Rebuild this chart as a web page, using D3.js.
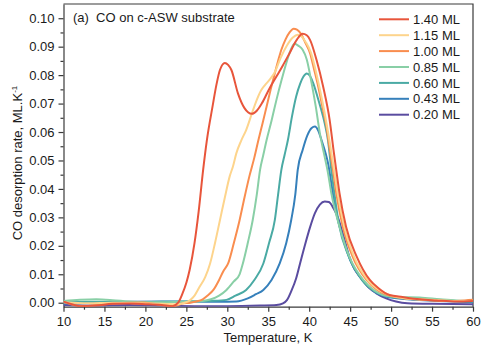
<!DOCTYPE html>
<html>
<head>
<meta charset="utf-8">
<script src="https://cdn.jsdelivr.net/npm/d3@7"></script>
<style>
  body { margin: 0; background: #fff; }
  svg { font-family: "Liberation Sans", Arial, sans-serif; }
  .axis path, .axis line { stroke: #3a3a3a; stroke-width: 1.2; }
  .axis text { font-size: 13px; fill: #1a1a1a; }
</style>
</head>
<body>
<svg id="chart" width="491" height="347"></svg>
<script>
// coverage labels, top to bottom in the legend
var labels = ['1.40 ML', '1.15 ML', '1.00 ML', '0.85 ML', '0.60 ML', '0.43 ML', '0.20 ML'];
var colors = ['#e8553b', '#fdd48c', '#f98d4f', '#89cfa6', '#4aaaa4', '#3680bb', '#5a4ca0'];

var xTicks = [10, 15, 20, 25, 30, 35, 40, 45, 50, 55, 60];
var yTicks = [0, 0.01, 0.02, 0.03, 0.04, 0.05, 0.06, 0.07, 0.08, 0.09, 0.10];

// [temperature K, rate ML/K]
var ml140 = [[10,0.0004],[11,-0.0005],[12,-0.0012],[14,-0.0010],[16,-0.0004],[18,-0.0003],[20,-0.0005],[22,-0.0008],[23.3,-0.0012],[24.0,0.0000],[24.5,0.0030],[25.0,0.0070],[25.4,0.0115],[26,0.021],[26.5,0.032],[27.05,0.0467],[27.5,0.057],[28.2,0.069],[28.7,0.077],[29.1,0.0818],[29.7,0.0843],[30.1,0.0836],[30.5,0.0818],[31.3,0.0736],[32.1,0.0684],[33.0,0.0664],[33.6,0.0675],[34.2,0.0700],[35.2,0.0756],[36.0,0.0795],[36.8,0.0835],[37.6,0.0877],[38.5,0.0925],[39.2,0.0945],[39.7,0.0940],[40.1,0.0924],[40.9,0.0853],[41.7,0.0760],[42.5,0.0642],[43.0,0.053],[43.3,0.0467],[43.7,0.0385],[44.5,0.0267],[45.8,0.0162],[47.4,0.0080],[48.5,0.0050],[49.8,0.0027],[51.4,0.0020],[53.5,0.0012],[55.5,0.0008],[58,0.0004],[60,0.0006]];
var ml115 = [[10,0.0002],[13,-0.0002],[16,0.0000],[19,-0.0002],[22,-0.0004],[24,-0.0005],[24.8,0.0000],[25.4,0.0008],[26.0,0.0025],[26.6,0.0055],[27.3,0.009],[27.9,0.0138],[28.5,0.021],[29.1,0.029],[29.7,0.037],[30.3,0.0445],[30.7,0.048],[31.1,0.0525],[31.7,0.057],[32.3,0.0607],[33.0,0.0665],[33.6,0.0713],[34.1,0.0745],[34.6,0.0765],[35.2,0.0785],[35.8,0.0810],[36.5,0.0860],[37.3,0.0905],[38.0,0.0932],[38.6,0.0942],[39.1,0.0935],[39.6,0.0915],[40.2,0.088],[41.0,0.079],[41.8,0.068],[42.5,0.0565],[43.1,0.0455],[43.5,0.0380],[44.3,0.0265],[45.5,0.016],[47.2,0.0078],[48.5,0.0045],[50,0.0025],[52,0.0015],[55,0.0010],[58,0.0006],[60,0.0006]];
var ml100 = [[10,0.0003],[11,-0.0006],[12.5,-0.0012],[14,-0.0008],[16,-0.0003],[18,0.0000],[19.7,0.0001],[21,-0.0004],[22.5,-0.0010],[23.5,-0.0012],[24.5,-0.0003],[25.5,0.0000],[26.2,0.0004],[27,0.0012],[27.6,0.0025],[28.3,0.0045],[29.0,0.0080],[29.5,0.011],[30.1,0.0138],[30.8,0.021],[31.5,0.029],[32.1,0.037],[32.7,0.0445],[33.3,0.051],[33.8,0.0572],[34.3,0.063],[34.8,0.069],[35.3,0.075],[35.8,0.0807],[36.2,0.0850],[36.6,0.0889],[37.1,0.0925],[37.6,0.0950],[38.1,0.0963],[38.5,0.0960],[39.0,0.0945],[39.5,0.0915],[40.1,0.0877],[40.6,0.082],[41.1,0.0760],[41.6,0.069],[42.1,0.0619],[42.5,0.054],[42.9,0.0467],[43.3,0.0385],[44.1,0.0267],[45.3,0.0162],[47.0,0.0080],[48.3,0.0045],[49.8,0.0025],[51.5,0.0016],[54,0.0010],[57,0.0006],[59,0.0008],[60,0.0010]];
var ml085 = [[10,0.0006],[12,0.0010],[14,0.0012],[16,0.0009],[18,0.0004],[20,0.0002],[22,0.0002],[24,0.0003],[25.5,0.0004],[27,0.0006],[28,0.0012],[29,0.0025],[29.9,0.0045],[30.8,0.0075],[31.5,0.0100],[31.9,0.0138],[32.5,0.021],[33.1,0.029],[33.6,0.038],[34.0,0.0467],[34.4,0.052],[34.8,0.0572],[35.4,0.064],[36.0,0.0713],[36.6,0.078],[37.2,0.0842],[37.7,0.0885],[38.2,0.0910],[38.7,0.0903],[39.2,0.0889],[39.7,0.0855],[40.3,0.0771],[40.8,0.0690],[41.3,0.0596],[41.8,0.0525],[42.3,0.0455],[42.7,0.0385],[43.7,0.0267],[44.9,0.0162],[46.6,0.0080],[48.0,0.0042],[49.0,0.0027],[51,0.0020],[53.5,0.0018],[56,0.0012],[58,0.0008],[60,0.0006]];
var ml060 = [[10,0.0002],[14,0.0003],[18,0.0002],[22,0.0003],[26,0.0004],[28,0.0006],[29.9,0.0010],[31,0.0025],[32.3,0.0045],[33.3,0.0080],[34.4,0.0138],[35.1,0.021],[35.8,0.029],[36.2,0.038],[36.6,0.0467],[37.0,0.052],[37.4,0.0572],[37.9,0.0655],[38.4,0.0724],[38.9,0.0770],[39.3,0.0795],[39.7,0.0806],[40.1,0.0797],[40.5,0.0771],[41.0,0.0725],[41.4,0.0685],[41.9,0.0630],[42.3,0.0570],[42.7,0.0467],[43.0,0.0400],[43.6,0.0280],[44.8,0.0165],[46.5,0.0078],[48.0,0.0040],[50,0.0020],[53,0.0012],[56,0.0008],[60,0.0004]];
var ml043 = [[10,-0.0003],[14,0.0000],[18,0.0003],[22,0.0004],[26,0.0004],[29,0.0003],[31.1,0.0004],[32.5,0.0015],[33.5,0.0030],[34.4,0.0045],[35.4,0.0080],[36.4,0.0138],[37.2,0.021],[37.8,0.029],[38.3,0.038],[38.6,0.0467],[39.2,0.0537],[39.8,0.0590],[40.3,0.0614],[40.7,0.0619],[41.1,0.0605],[41.5,0.0572],[42.0,0.0525],[42.3,0.0490],[42.7,0.0420],[43.2,0.0330],[44.0,0.0240],[45,0.0150],[46.5,0.0080],[48,0.0038],[50,0.0018],[53,0.0010],[56,0.0006],[60,0.0002]];
var ml020 = [[10,-0.0008],[14,-0.0010],[18,-0.0008],[22,-0.0010],[26,-0.0012],[30,-0.0012],[34,-0.0010],[36.0,-0.0008],[36.8,-0.0002],[37.3,0.0010],[37.8,0.0040],[38.4,0.0085],[38.9,0.0140],[39.5,0.0205],[40.1,0.0265],[40.7,0.0315],[41.3,0.0345],[41.9,0.0356],[42.4,0.0354],[43.0,0.0330],[43.5,0.0300],[44.1,0.0244],[44.9,0.0162],[45.5,0.0120],[46.2,0.0091],[47.2,0.0055],[48.2,0.0033],[49.4,0.0015],[50.6,0.0004],[52,-0.0002],[55,-0.0004],[60,-0.0005]];

var series = [ml140, ml115, ml100, ml085, ml060, ml043, ml020];

var svg = d3.select('#chart');
var plot = {left: 63.5, right: 473, top: 4, bottom: 306.7};

var x = d3.scaleLinear().domain([10, 60]).range([plot.left, plot.right]);
var y = d3.scaleLinear().domain([-0.0014, 0.105]).range([plot.bottom, plot.top]);

// minor ticks first so majors draw over them
svg.append('g')
  .attr('class', 'axis')
  .attr('transform', 'translate(0,' + plot.bottom + ')')
  .call(d3.axisBottom(x).tickValues(d3.range(12.5, 60, 5)).tickSize(3).tickFormat(''))
  .select('.domain').remove();
svg.append('g')
  .attr('class', 'axis')
  .attr('transform', 'translate(' + plot.left + ',0)')
  .call(d3.axisLeft(y).tickValues(d3.range(0.005, 0.105, 0.01)).tickSize(3).tickFormat(''))
  .select('.domain').remove();

svg.append('g')
  .attr('class', 'axis')
  .attr('transform', 'translate(0,' + plot.bottom + ')')
  .call(d3.axisBottom(x).tickValues(xTicks).tickSize(5).tickPadding(5).tickSizeOuter(0));
svg.append('g')
  .attr('class', 'axis')
  .attr('transform', 'translate(' + plot.left + ',0)')
  .call(d3.axisLeft(y).tickValues(yTicks).tickSize(5).tickPadding(4).tickSizeOuter(0).tickFormat(d3.format('.2f')));

// frame top and right
svg.append('path')
  .attr('d', 'M' + plot.left + ',' + plot.top + 'H' + plot.right + 'V' + plot.bottom)
  .attr('fill', 'none')
  .attr('stroke', '#3a3a3a')
  .attr('stroke-width', 1.2);

var line = d3.line()
  .x(d => x(d[0]))
  .y(d => y(d[1]))
  .curve(d3.curveMonotoneX);

svg.append('defs').append('clipPath').attr('id', 'clip')
  .append('rect')
  .attr('x', plot.left).attr('y', plot.top)
  .attr('width', plot.right - plot.left).attr('height', plot.bottom - plot.top);

// lowest coverage drawn first
svg.append('g')
  .attr('clip-path', 'url(#clip)')
  .selectAll('path')
  .data(d3.range(series.length).reverse())
  .join('path')
  .attr('d', i => line(series[i]))
  .attr('fill', 'none')
  .attr('stroke', i => colors[i])
  .attr('stroke-width', 2)
  .attr('stroke-linejoin', 'round');

// panel title
svg.append('text')
  .attr('x', 73).attr('y', 22)
  .attr('font-size', 13)
  .attr('fill', '#1a1a1a')
  .attr('xml:space', 'preserve')
  .text('(a)  CO on c-ASW substrate');

// legend
var legend = svg.append('g').selectAll('g')
  .data(labels)
  .join('g')
  .attr('transform', (d, i) => 'translate(379,' + (19.3 + i * 15.9) + ')');
legend.append('line')
  .attr('x1', 0).attr('x2', 30)
  .attr('stroke', (d, i) => colors[i])
  .attr('stroke-width', 2);
legend.append('text')
  .attr('x', 34).attr('y', 4.6)
  .attr('font-size', 13)
  .attr('fill', '#1a1a1a')
  .text(d => d);

// axis titles
svg.append('text')
  .attr('x', 268).attr('y', 342)
  .attr('text-anchor', 'middle')
  .attr('font-size', 13)
  .attr('fill', '#1a1a1a')
  .text('Temperature, K');

var ylab = svg.append('text')
  .attr('transform', 'translate(21.5,163) rotate(-90)')
  .attr('text-anchor', 'middle')
  .attr('font-size', 13)
  .attr('fill', '#1a1a1a');
ylab.append('tspan').text('CO desorption rate, ML.K');
ylab.append('tspan').attr('font-size', 8).attr('dy', -5).text('-1');
</script>
</body>
</html>
